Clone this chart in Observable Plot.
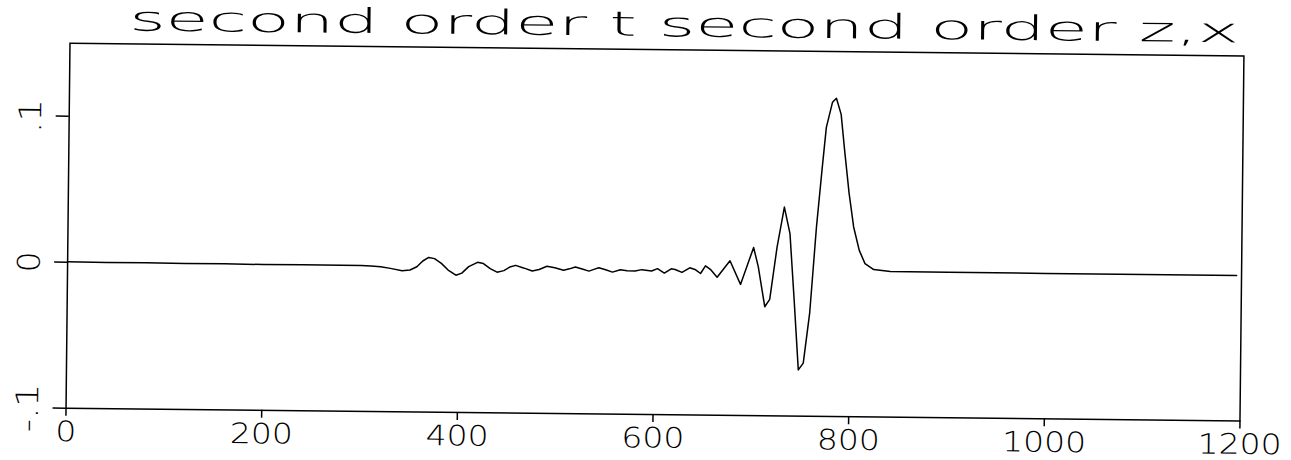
<!DOCTYPE html>
<html>
<head>
<meta charset="utf-8">
<script src="https://cdn.jsdelivr.net/npm/d3@7"></script>
<script src="https://cdn.jsdelivr.net/npm/@observablehq/plot@0.6"></script>
<style>
  html, body { margin: 0; padding: 0; background: #fff; }
  #page { position: relative; width: 1291px; height: 460px; background: #fff;
          transform: rotate(0.62deg); transform-origin: 645px 230px; }
  svg { display: block; }
</style>
</head>
<body>
<div id="page"></div>
<script>
const title = "second order t second order z,x";

const xs = [0, 40, 80, 120, 160, 200, 240, 280, 300, 310, 320, 330, 342, 350, 357, 363, 369, 375, 382, 389,
  397, 403, 410, 419, 425, 432, 439, 446, 452, 458, 466, 475, 482, 490, 498, 507, 513, 519, 526, 533,
  538, 543, 550, 557, 565, 572, 580, 587, 597, 603, 610, 617, 621, 628, 636, 642, 647, 652, 657, 664,
  677, 688, 701, 706, 713, 718, 725, 732, 738, 743, 748, 753, 759, 765, 770, 774, 780, 784, 789, 793,
  798, 803, 809, 815, 824, 841, 900, 1000, 1100, 1195];
const ys = [0.0003, 0.0001, 0.0002, 0.0000, 0.0001, -0.0001, 0.0000, -0.0001, -0.0001, -0.0003, -0.0008, -0.0018, -0.0033, -0.0028, -0.0005, 0.0035, 0.0060, 0.0052, 0.0020, -0.0025,
  -0.0060, -0.0045, 0.0000, 0.0030, 0.0022, -0.0012, -0.0036, -0.0025, 0.0000, 0.0012, -0.0005, -0.0026, -0.0015, 0.0008, -0.0002, -0.0018, -0.0008, 0.0005, -0.0008, -0.0022,
  -0.0010, 0.0002, -0.0012, -0.0027, -0.0010, -0.0016, -0.0018, -0.0008, -0.0017, 0.0000, -0.0030, 0.0000, -0.0005, -0.0024, 0.0008, -0.0005, -0.0030, 0.0023, -0.0001, -0.0055,
  0.0059, -0.0102, 0.0152, 0.0020, -0.0253, -0.0202, 0.0158, 0.0431, 0.0250, -0.0205, -0.0683, -0.0636, -0.0294, 0.0297, 0.0685, 0.0980, 0.1152, 0.1180, 0.1070, 0.0820,
  0.0530, 0.0300, 0.0140, 0.0050, 0.0010, -0.0003, -0.0004, -0.0004, -0.0004, -0.0004];

const xTicks = [0, 200, 400, 600, 800, 1000, 1200];
const xLabels = ["0", "200", "400", "600", "800", "1000", "1200"];
const yTicks = [-0.1, 0, 0.1];
const yLabels = ["-.1", "0", ".1"];

const data = xs.map((x, i) => ({x, y: ys[i]}));
const page = document.getElementById("page");
const FONT = "'DejaVu Sans', sans-serif";

// Title above the chart
const t = d3.create("svg").attr("width", 1291).attr("height", 40);
t.append("text")
  .attr("x", 682).attr("y", 36)
  .attr("text-anchor", "middle")
  .attr("font-family", FONT).attr("font-weight", 200).attr("font-size", 34)
  .attr("fill", "black")
  .attr("textLength", 1110).attr("lengthAdjust", "spacingAndGlyphs")
  .text(title);
page.append(t.node());

const chart = Plot.plot({
  width: 1291,
  height: 420,
  marginTop: 9,
  marginLeft: 67.5,
  marginRight: 49.5,
  marginBottom: 46,
  style: {fontFamily: FONT, fontSize: "28px", fontWeight: 200, background: "white", color: "black", overflow: "visible"},
  x: {domain: [0, 1200], ticks: xTicks, tickSize: 8, tickPadding: 5,
      tickFormat: d => xLabels[xTicks.indexOf(d)], label: null},
  y: {domain: [-0.1, 0.15], ticks: yTicks, tickSize: 13, tickFormat: () => null, label: null},
  marks: [
    Plot.frame({stroke: "black", strokeWidth: 1.5}),
    Plot.line(data, {x: "x", y: "y", stroke: "black", strokeWidth: 1.5}),
    Plot.text(yTicks, {y: d => d, text: (d, i) => yLabels[i], frameAnchor: "left", dx: -38,
      rotate: -90, textAnchor: "middle", lineAnchor: "middle", fontSize: 31, fill: "black"})
  ]
});

// widen glyphs a little to mimic the plotter stroke font
const charW = c => (c === "." ? 13 : c === "-" ? 15 : 21);
const svgSel = d3.select(chart);
svgSel.selectAll("text").each(function () {
  const s = this.textContent;
  if (!s) return;
  let w = 0;
  for (const c of s) w += charW(c);
  this.setAttribute("textLength", w);
  this.setAttribute("lengthAdjust", "spacingAndGlyphs");
});
svgSel.selectAll("g[aria-label$='tick'] path, g[aria-label$='tick'] line").attr("stroke-width", 1.5);

page.append(chart);
</script>
</body>
</html>
